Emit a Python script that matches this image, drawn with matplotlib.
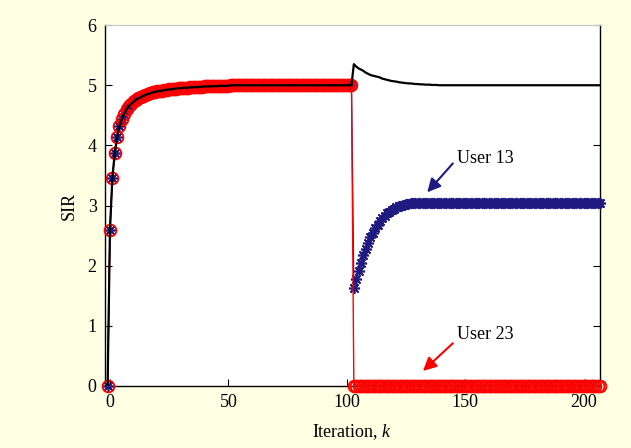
import numpy as np
import matplotlib
matplotlib.use("Agg")
import matplotlib.pyplot as plt

# iterations: first phase (all users converge), second phase (user 23 drops out)
k_phase1 = np.arange(-1, 103)
k_phase2 = np.arange(103, 208)

# common SIR trajectory in phase 1 (k = -1 .. 102)
sir_phase1 = [0.0, 2.60, 3.45, 3.87, 4.14, 4.32, 4.44, 4.53, 4.60, 4.65,
              4.69, 4.73, 4.76, 4.78, 4.80, 4.82, 4.84, 4.85, 4.865, 4.88,
              4.89, 4.90, 4.905, 4.91, 4.92, 4.925, 4.93, 4.935, 4.94, 4.945,
              4.95, 4.95, 4.955, 4.96, 4.96, 4.965, 4.965, 4.97, 4.97, 4.975,
              4.975, 4.98, 4.98, 4.98, 4.985, 4.985, 4.985, 4.99, 4.99, 4.99,
              4.99, 4.99] + [5.0] * 52

# phase 2 (k = 103 .. 207)
user13_phase2 = [1.63, 1.78, 1.92, 2.05, 2.17, 2.28, 2.38, 2.47, 2.55, 2.62,
                 2.68, 2.74, 2.79, 2.83, 2.87, 2.90, 2.93, 2.95, 2.97, 2.99,
                 3.00, 3.01, 3.02, 3.03, 3.035, 3.04, 3.04, 3.045] + [3.05] * 77
user23_phase2 = [0.0] * 105
other_phase2 = [5.35, 5.31, 5.28, 5.26, 5.24, 5.21, 5.19, 5.17, 5.16, 5.15,
                5.14, 5.13, 5.11, 5.10, 5.09, 5.08, 5.07, 5.065, 5.06, 5.05,
                5.045, 5.04, 5.035, 5.03, 5.03, 5.025, 5.02, 5.02, 5.015, 5.015,
                5.01, 5.01, 5.01, 5.005, 5.005, 5.005] + [5.0] * 69

k = np.concatenate([k_phase1, k_phase2])
user13 = np.array(sir_phase1 + user13_phase2)
user23 = np.array(sir_phase1 + user23_phase2)
other = np.array(sir_phase1 + other_phase2)

# annotations: label text, text anchor, arrow tail, arrow head, colour
labels = ['User 13', 'User 23']
label_xy = [(146.5, 3.78), (146.5, 0.85)]
arrow_tail = [(144.8, 3.70), (144.8, 0.71)]
arrow_head = [(134.0, 3.22), (132.2, 0.25)]

plt.rcParams['font.family'] = ['Liberation Serif', 'DejaVu Serif']
plt.rcParams['mathtext.fontset'] = 'custom'
plt.rcParams['mathtext.it'] = 'Liberation Serif:italic'

bg = '#ffffe3'
navy = '#1f1a80'
arrow_colors = [navy, 'red']

fig = plt.figure(figsize=(6.31, 4.48), dpi=100, facecolor=bg)
ax = fig.add_axes([0.1664, 0.1384, 0.7846, 0.8056])
ax.set_facecolor('white')

ax.plot(k, user13, color=navy, lw=0.9, marker=(8, 2, 0), ms=8, mew=1.2,
        mec=navy, zorder=2, clip_on=False)
ax.plot(k, user23, color='red', lw=1.0, marker='o', ms=8.5, mew=1.3,
        mfc='none', mec='red', zorder=3, clip_on=False)
ax.plot(k, other, color='black', lw=1.6, zorder=4)

for text, txy, tail, head, c in zip(labels, label_xy, arrow_tail,
                                    arrow_head, arrow_colors):
    ax.text(txy[0], txy[1], text, fontsize=13, va='center', ha='left')
    ax.annotate('', xy=head, xytext=tail,
                arrowprops=dict(arrowstyle='-|>', color=c, lw=1.5,
                                mutation_scale=20, shrinkA=0, shrinkB=0))

ax.set_xlim(-2.1, 207)
ax.set_ylim(0, 6)
ax.set_xticks([0, 50, 100, 150, 200])
ax.set_yticks([0, 1, 2, 3, 4, 5, 6])
ax.tick_params(direction='in', length=5, labelsize=13, pad=6,
               right=True, width=0.8)
for side in ['left', 'bottom', 'right']:
    ax.spines[side].set_color('black')
    ax.spines[side].set_linewidth(1.0)
    ax.spines[side].set_zorder(1)
ax.spines['top'].set_color('#c8c8c8')
ax.spines['top'].set_linewidth(0.8)

ax.set_xlabel('Iteration, $k$', fontsize=13, labelpad=8)
ax.set_ylabel('SIR', fontsize=13, labelpad=7)

fig.savefig('out.png', dpi=100, facecolor=bg)
